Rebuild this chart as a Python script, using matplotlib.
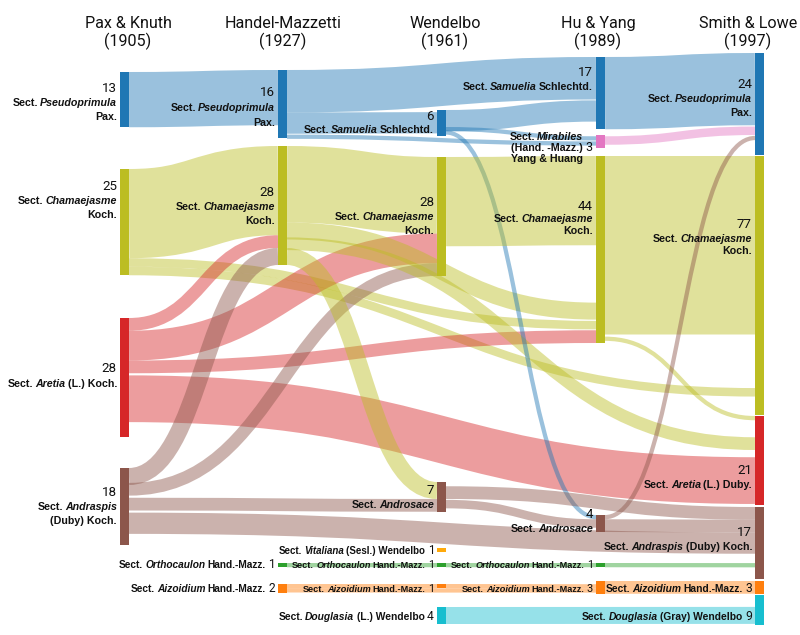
"""Alluvial diagram: how the sections of Androsace were split and merged
between five classifications (1905 -> 1997)."""

import matplotlib
matplotlib.use("Agg")
import matplotlib.pyplot as plt
from matplotlib.path import Path
from matplotlib.patches import PathPatch, Rectangle

plt.rcParams["font.family"] = ["Liberation Sans", "DejaVu Sans"]
THIN = ["Roboto", "Liberation Sans", "DejaVu Sans"]

# --- Data ---------------------------------------------------------------
YEARS = ["Pax & Knuth\n(1905)", "Handel-Mazzetti\n(1927)", "Wendelbo\n(1961)",
         "Hu & Yang\n(1989)", "Smith & Lowe\n(1997)"]

NODE_IDS = ["P0", "C0", "Ar0", "An0",
            "P1", "C1", "O1", "Az1",
            "S2", "C2", "An2", "V2", "O2", "Az2", "D2",
            "S3", "M3", "C3", "An3", "O3", "Az3",
            "P4", "C4", "Ar4", "An4", "Az4", "D4"]
NODE_COL = [0, 0, 0, 0,
            1, 1, 1, 1,
            2, 2, 2, 2, 2, 2, 2,
            3, 3, 3, 3, 3, 3,
            4, 4, 4, 4, 4, 4]
NODE_GENUS = ["Pseudoprimula", "Chamaejasme", "Aretia", "Andraspis",
              "Pseudoprimula", "Chamaejasme", "Orthocaulon", "Aizoidium",
              "Samuelia", "Chamaejasme", "Androsace", "Vitaliana", "Orthocaulon",
              "Aizoidium", "Douglasia",
              "Samuelia", "Mirabiles", "Chamaejasme", "Androsace", "Orthocaulon",
              "Aizoidium",
              "Pseudoprimula", "Chamaejasme", "Aretia", "Andraspis", "Aizoidium",
              "Douglasia"]
NODE_AUTHOR = ["\nPax.", "\nKoch.", "(L.) Koch.", "\n(Duby) Koch.",
               "\nPax.", "\nKoch.", "Hand.-Mazz.", "Hand.-Mazz.",
               "Schlechtd.", "\nKoch.", "", "(Sesl.) Wendelbo", "Hand.-Mazz.",
               "Hand.-Mazz.", "(L.) Wendelbo",
               "Schlechtd.", "\n(Hand. -Mazz.)\nYang & Huang", "\nKoch.", "",
               "Hand.-Mazz.", "Hand.-Mazz.",
               "\nPax.", "\nKoch.", "(L.) Duby.", "(Duby) Koch.", "Hand.-Mazz.",
               "(Gray) Wendelbo"]
NODE_COUNT = [13, 25, 28, 18,
              16, 28, 1, 2,
              6, 28, 7, 1, 1, 1, 4,
              17, 3, 44, 4, 1, 3,
              24, 77, 21, 17, 3, 9]

FLOW_SRC = ["P0", "C0", "C0", "C0", "Ar0", "Ar0", "Ar0", "Ar0",
            "An0", "An0", "An0", "An0",
            "P1", "P1", "P1", "C1", "C1", "C1", "C1", "O1", "Az1", "Az1",
            "S2", "S2", "S2", "C2", "An2", "An2", "O2", "Az2", "D2",
            "S3", "M3", "C3", "C3", "An3", "An3", "O3", "Az3"]
FLOW_DST = ["P1", "C1", "C3", "C4", "C1", "C2", "C3", "Ar4",
            "C1", "C2", "An2", "An4",
            "S3", "S2", "M3", "C2", "C3", "Ar4", "An2", "O2", "Az2", "Az3",
            "S3", "M3", "An3", "C3", "An4", "An3", "O3", "Az3", "D4",
            "P4", "P4", "C4", "Ar4", "P4", "An4", "An4", "Az4"]
FLOW_N = [13, 21, 2, 2, 3, 7, 3, 11,
          4, 3, 3, 5,
          10, 5, 1, 18, 4, 3, 4, 1, 1, 1,
          5, 1, 1, 21, 3, 2, 1, 1, 4,
          17, 2, 42, 1, 1, 3, 1, 3]

SECTION_COLOR = {
    "Pseudoprimula": "#1f77b4", "Samuelia": "#1f77b4", "Mirabiles": "#e377c2",
    "Chamaejasme": "#bcbd22", "Aretia": "#d62728", "Andraspis": "#8c564b",
    "Androsace": "#8c564b", "Orthocaulon": "#2ca02c", "Aizoidium": "#ff7f0e",
    "Vitaliana": "#ffa90a", "Douglasia": "#17becf",
}

# --- Layout (pixels; 1 data unit = 1 px) ---------------------------------
W, H = 800, 635
UNIT = 4.25          # px per species
BAR_W = 9
COL_X = [120, 278, 437, 596, 755]
HEAD_X = [128, 283, 445, 598, 748]

# node: (top px, drawn span in species)
NODE_BOX = {
    "P0": (72, 13), "C0": (169, 25), "Ar0": (318, 28), "An0": (468, 18),
    "P1": (70, 16), "C1": (146, 28), "O1": (563, 1), "Az1": (584, 2),
    "S2": (110, 6), "C2": (157, 28), "An2": (482, 7), "V2": (548, 1),
    "O2": (563, 1), "Az2": (584, 1), "D2": (607, 4),
    "S3": (57, 17), "M3": (135, 3), "C3": (156, 44), "An3": (515, 4),
    "O3": (563, 1), "Az3": (581, 3),
    "P4": (53, 24), "C4": (156, 61), "Ar4": (416, 21), "An4": (507, 17),
    "Az4": (581, 3), "D4": (595, 7),
}

# flow: (offset in source, offset in target), in species from node top
FLOW_SLOT = {
    ("P0", "P1"): (0, 0), ("C0", "C1"): (0, 0), ("C0", "C3"): (21, 38.8),
    ("C0", "C4"): (23, 54.6), ("Ar0", "C1"): (0, 21), ("Ar0", "C2"): (3, 18),
    ("Ar0", "C3"): (10, 41), ("Ar0", "Ar4"): (13.5, 9.7),
    ("An0", "C1"): (0, 24), ("An0", "C2"): (3.5, 25), ("An0", "An2"): (7, 4),
    ("An0", "An4"): (10.5, 6),
    ("P1", "S3"): (0, 0), ("P1", "S2"): (10, 0.5), ("P1", "M3"): (15.2, 1.5),
    ("C1", "C2"): (0, 0), ("C1", "C3"): (18, 34.5), ("C1", "Ar4"): (21.5, 5),
    ("C1", "An2"): (24, 0),
    ("O1", "O2"): (0, 0), ("Az1", "Az2"): (0, 0), ("Az1", "Az3"): (1, 1.75),
    ("S2", "S3"): (0, 10.2), ("S2", "M3"): (4, 0.3), ("S2", "An3"): (4.8, 0),
    ("C2", "C3"): (0, 0),
    ("An2", "An4"): (1, 0), ("An2", "An3"): (4.2, 1), ("O2", "O3"): (0, 0),
    ("Az2", "Az3"): (0, 0.75), ("D2", "D4"): (0, 2.8),
    ("S3", "P4"): (0, 0), ("M3", "P4"): (0.3, 17.3), ("C3", "C4"): (0, 0),
    ("C3", "Ar4"): (42.5, 0), ("An3", "P4"): (0, 19.5), ("An3", "An4"): (1, 3),
    ("O3", "An4"): (0, 13.2), ("Az3", "Az4"): (0, 0),
}

# label: (centre y of first line, where the count goes, font size, line step)
# "top" = own line above; an int = appended to that line
LABEL_POS = {
    "P0": (88, "top", 7.7, 14.5), "C0": (186, "top", 7.7, 14.5),
    "Ar0": (369, "top", 7.7, 14.5), "An0": (492, "top", 7.7, 14.5),
    "P1": (93, "top", 7.7, 14.5), "C1": (192, "top", 7.7, 14.5),
    "O1": (565, 0, 7.3, 0), "Az1": (588, 0, 7.3, 0),
    "S2": (116, "top", 7.7, 13.5), "C2": (203, "top", 7.7, 13.5),
    "An2": (490, "top", 7.7, 14.5), "V2": (550, 0, 7.0, 0),
    "O2": (565, 0, 6.6, 0), "Az2": (588, 0, 6.6, 0), "D2": (617, 0, 7.4, 0),
    "S3": (72, "top", 7.7, 15), "M3": (136, 1, 7.7, 11.5),
    "C3": (206, "top", 7.7, 12.5), "An3": (515, "top", 7.7, 13),
    "O3": (565, 0, 6.6, 0), "Az3": (588, 0, 6.6, 0),
    "P4": (85, "top", 7.7, 14), "C4": (225, "top", 7.7, 13),
    "Ar4": (470, "top", 7.7, 14.5), "An4": (532, "top", 7.7, 15),
    "Az4": (588, 0, 7.4, 0), "D4": (617, 0, 7.4, 0),
}

fig = plt.figure(figsize=(W / 100, H / 100), dpi=100)
ax = fig.add_axes([0, 0, 1, 1])
ax.set_xlim(0, W)
ax.set_ylim(H, 0)
ax.axis("off")

node_col = dict(zip(NODE_IDS, NODE_COL))
node_color = {n: SECTION_COLOR[g] for n, g in zip(NODE_IDS, NODE_GENUS)}

# --- Flows -----------------------------------------------------------------
for src, dst, n in zip(FLOW_SRC, FLOW_DST, FLOW_N):
    s_off, d_off = FLOW_SLOT[(src, dst)]
    thick = n * UNIT
    x0 = COL_X[node_col[src]] + BAR_W
    x1 = COL_X[node_col[dst]]
    y0 = NODE_BOX[src][0] + s_off * UNIT + thick / 2
    y1 = NODE_BOX[dst][0] + d_off * UNIT + thick / 2
    xm = (x0 + x1) / 2
    path = Path([(x0, y0), (xm, y0), (xm, y1), (x1, y1)],
                [Path.MOVETO, Path.CURVE4, Path.CURVE4, Path.CURVE4])
    ax.add_patch(PathPatch(path, fill=False, edgecolor=node_color[src],
                           alpha=0.45, lw=thick * 0.72, capstyle="butt",
                           zorder=1))

# --- Nodes -----------------------------------------------------------------
for nid in NODE_IDS:
    top, span = NODE_BOX[nid]
    ax.add_patch(Rectangle((COL_X[node_col[nid]], top), BAR_W, span * UNIT,
                           color=node_color[nid], lw=0, zorder=3))

# --- Column headers ---------------------------------------------------------
for x, title in zip(HEAD_X, YEARS):
    ax.text(x, 33, title, ha="center", va="center", fontsize=11.6,
            linespacing=1.15, color="#111111", family=THIN)

# --- Node labels ------------------------------------------------------------
renderer = fig.canvas.get_renderer()


def draw_line(x_right, y, parts):
    """Right-aligned line made of differently styled pieces; returns width."""
    x = x_right
    for txt, kw in reversed(parts):
        t = ax.text(x, y, txt, ha="right", va="baseline", zorder=5,
                    color="#111111", **kw)
        x -= t.get_window_extent(renderer).width + kw["fontsize"] * 0.3
    return x_right - x


for nid, genus, author, count in zip(NODE_IDS, NODE_GENUS, NODE_AUTHOR, NODE_COUNT):
    y, num_pos, fs, step = LABEL_POS[nid]
    bold = dict(fontsize=fs, fontweight="bold")
    boldit = dict(fontsize=fs, fontweight="bold", fontstyle="italic")
    num = dict(fontsize=9.6 if num_pos == "top" else fs + 1.3, family=THIN)

    pieces = author.split("\n")
    lines = [[("Sect.", bold), (genus, boldit)]]
    if pieces[0]:
        lines[0].append((pieces[0], bold))
    for extra in pieces[1:]:
        lines.append([(extra, bold)])

    x_right = COL_X[node_col[nid]] - 3
    if num_pos == "top":
        lines.insert(0, [(str(count), num)])
        shift = {}
    else:
        # the count hangs off one line; the others align with its text
        num_w = draw_line(x_right, y + num_pos * step + 3.5, [(str(count), num)])
        shift = {i: num_w for i in range(len(lines))}

    for i, parts in enumerate(lines):
        draw_line(x_right - shift.get(i, 0), y + i * step + 3.5, parts)

fig.savefig("out.png", dpi=100)
